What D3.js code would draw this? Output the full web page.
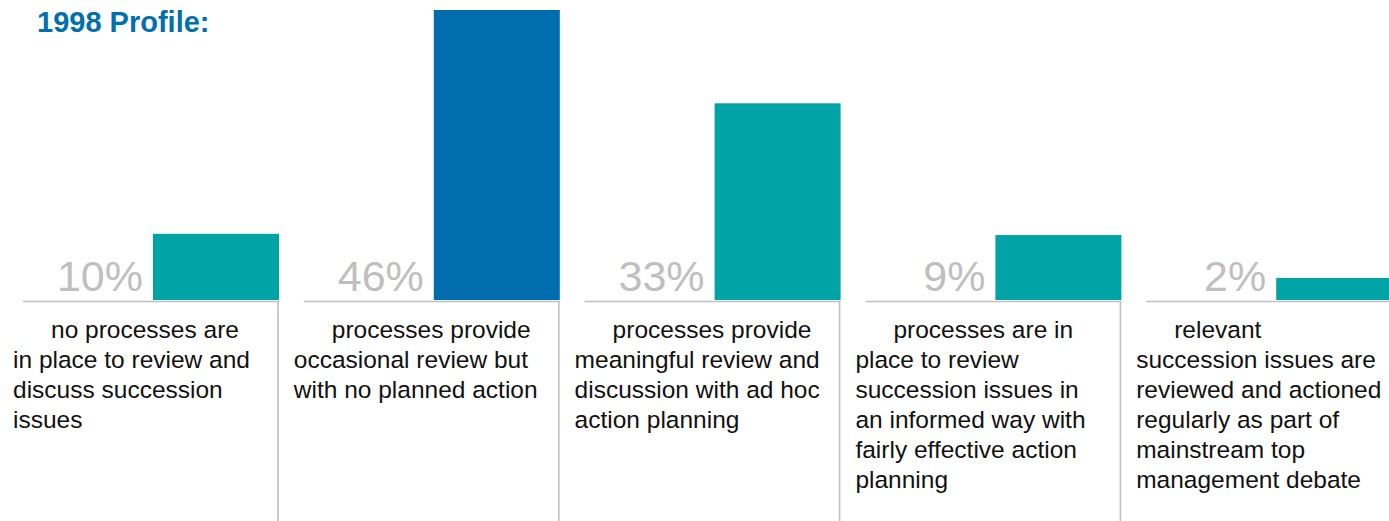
<!DOCTYPE html>
<html>
<head>
<meta charset="utf-8">
<script src="https://cdn.jsdelivr.net/npm/d3@7"></script>
<style>
  html, body { margin: 0; padding: 0; background: #fff; }
  svg { display: block; font-family: "Liberation Sans", Arial, sans-serif; }
</style>
</head>
<body>
<script>
// ---- data ----
const title = "1998 Profile:";
const categories = ["none", "occasional", "meaningful", "informed", "mainstream"];
const shares = [10, 46, 33, 9, 2];                  // printed percentages
const barValues = [10.5, 46, 31.2, 10.3, 3.5];      // bar lengths as drawn (percentage points)
const highlighted = ["occasional"];
const descriptions = [
  ["no processes are", "in place to review and", "discuss succession", "issues"],
  ["processes provide", "occasional review but", "with no planned action"],
  ["processes provide", "meaningful review and", "discussion with ad hoc", "action planning"],
  ["processes are in", "place to review", "succession issues in", "an informed way with", "fairly effective action", "planning"],
  ["relevant", "succession issues are", "reviewed and actioned", "regularly as part of", "mainstream top", "management debate"]
];

// ---- layout ----
const W = 1389, H = 521;
const baseY = 300;
const panelW = 256, barW = 126;
const colors = { teal: "#00A4A6", blue: "#006DAE", grey: "#BFBFBF", title: "#0070AE" };

const svg = d3.select("body").append("svg").attr("width", W).attr("height", H);

const x = d3.scaleBand().domain(categories).range([23, 23 + 280.8 * 5]).paddingInner(0).paddingOuter(0);
const y = d3.scaleLinear().domain([0, 46]).range([baseY, 10]);

svg.append("text")
  .attr("x", 37).attr("y", 32)
  .attr("font-size", 29).attr("font-weight", "bold")
  .attr("fill", colors.title)
  .text(title);

const g = svg.selectAll("g.panel")
  .data(categories.map((c, i) => ({ c, share: shares[i], v: barValues[i], lines: descriptions[i] })))
  .join("g").attr("class", "panel")
  .attr("transform", d => `translate(${x(d.c)},0)`);

// baseline
g.append("line")
  .attr("x1", 0).attr("x2", panelW)
  .attr("y1", baseY + 1.5).attr("y2", baseY + 1.5)
  .attr("stroke", colors.grey).attr("stroke-width", 1.6);

// vertical separator
g.append("line")
  .attr("x1", panelW - 1).attr("x2", panelW - 1)
  .attr("y1", baseY + 1).attr("y2", H)
  .attr("stroke", colors.grey).attr("stroke-width", 1.6);

// bars
g.append("rect")
  .attr("x", panelW - barW).attr("width", barW)
  .attr("y", d => y(d.v)).attr("height", d => y(0) - y(d.v))
  .attr("fill", d => highlighted.includes(d.c) ? colors.blue : colors.teal);

// percentage labels
g.append("text")
  .attr("x", panelW - barW - 10).attr("y", baseY - 9)
  .attr("text-anchor", "end")
  .attr("font-size", 43).attr("fill", colors.grey)
  .text(d => d.share + "%");

// descriptions
g.append("text")
  .attr("font-size", 24.5).attr("fill", "#111")
  .selectAll("tspan")
  .data(d => d.lines)
  .join("tspan")
  .attr("x", (l, i) => -10 + (i === 0 ? 38 : 0))
  .attr("y", (l, i) => 338 + i * 30)
  .text(l => l);
</script>
</body>
</html>
